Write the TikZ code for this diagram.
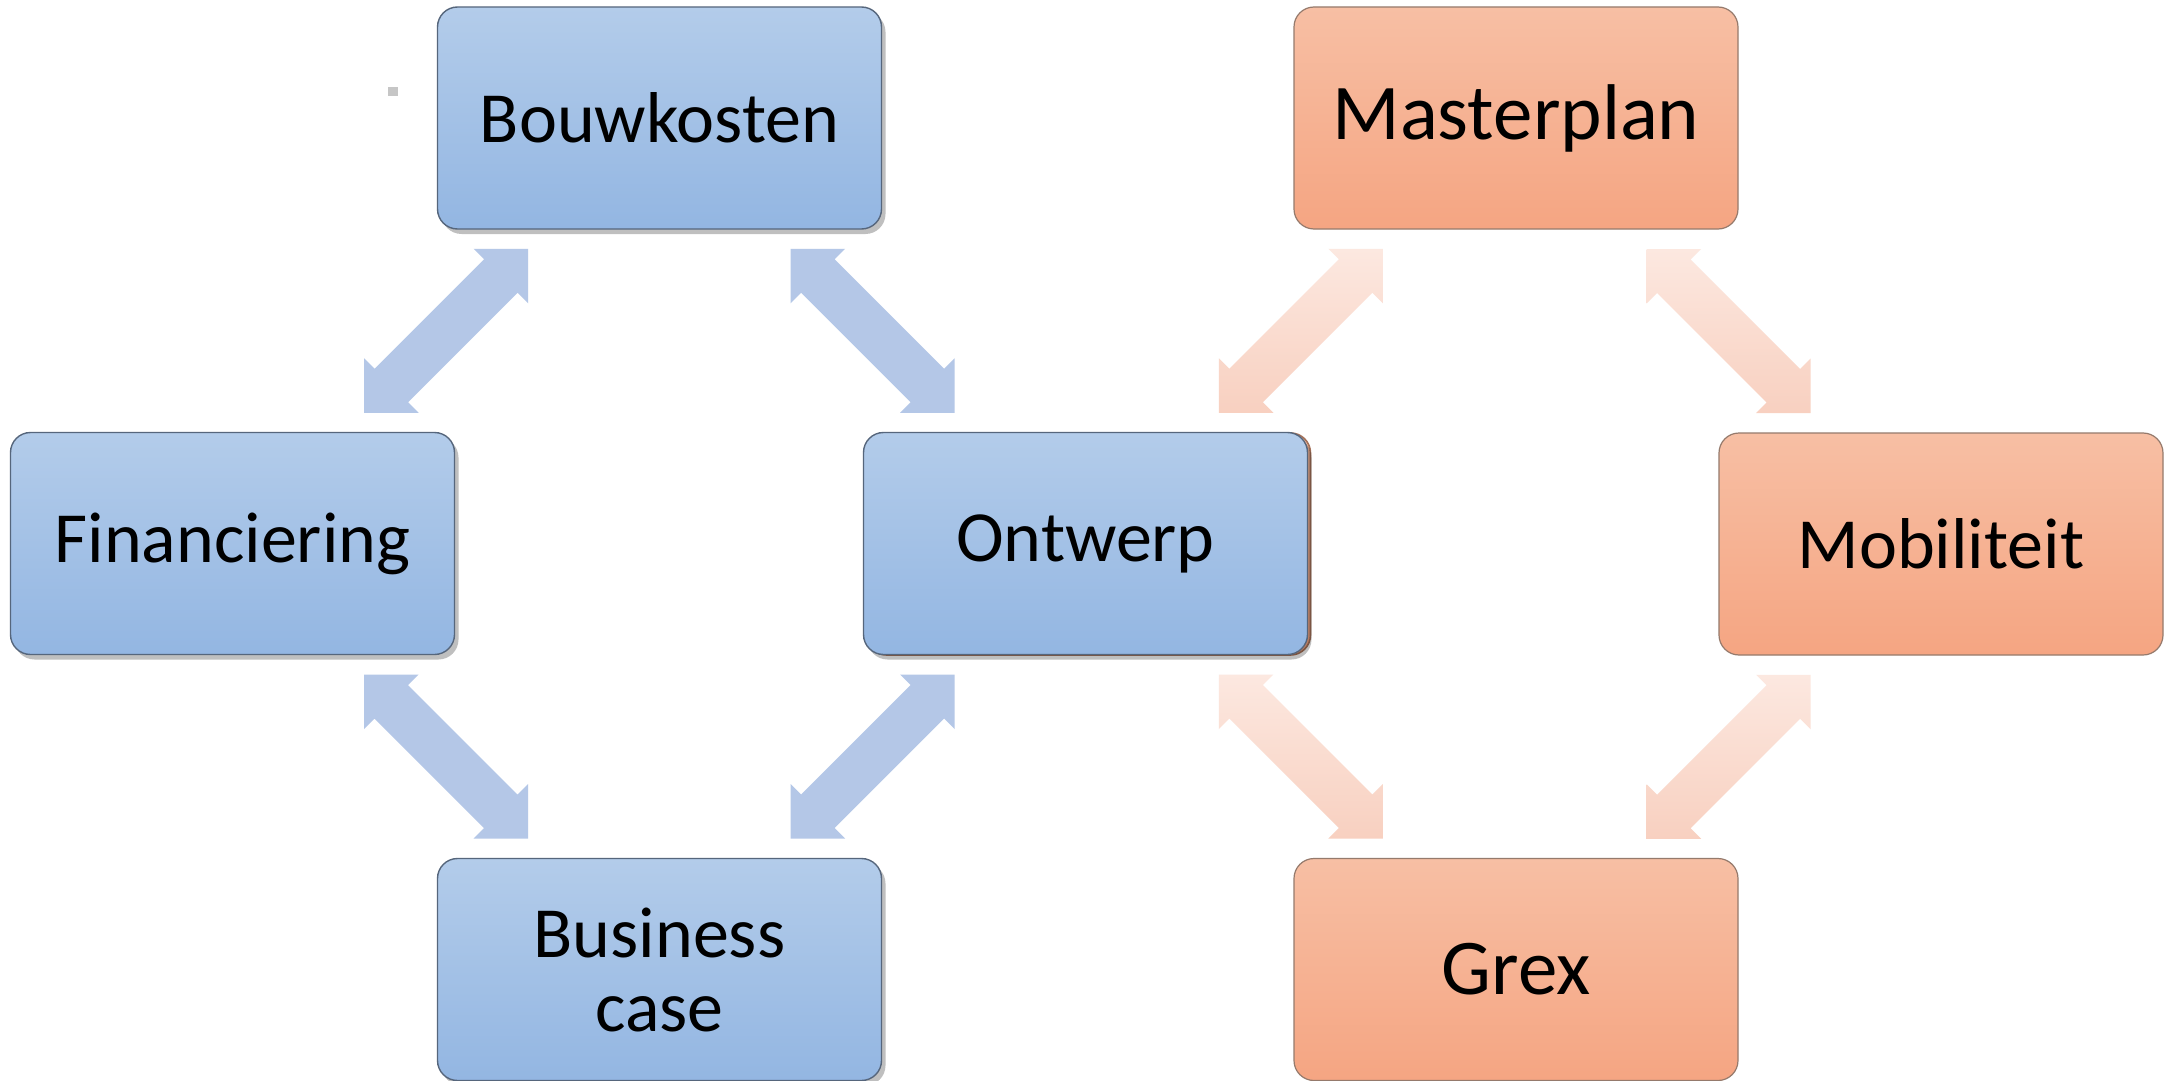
\documentclass[tikz,border=0pt]{standalone}
\usepackage{fontspec}
\setmainfont{Carlito}
\usetikzlibrary{calc,shadows}
\definecolor{bluetop}{HTML}{B3CCEA}
\definecolor{bluebot}{HTML}{93B6E2}
\definecolor{bluedraw}{HTML}{56667C}
\definecolor{orgtop}{HTML}{F7BFA4}
\definecolor{orgbot}{HTML}{F5A582}
\definecolor{orgdraw}{HTML}{957A6C}
\definecolor{bluearrow}{HTML}{B4C7E7}
\definecolor{orgarrowtop}{HTML}{FCE8E0}
\definecolor{orgarrowbot}{HTML}{F8D0C0}
\definecolor{brownedge}{HTML}{A5725A}
\newcommand\dblarrNE[3]{%
  \path[#3, shift={($(#1)!0.5!(#2)$)}] (82,-82) -- (27.5,-82) -- (38,-71.5) -- (-71.5,38) -- (-82,27.5) -- (-82,82) -- (-27.5,82) -- (-38,71.5) -- (71.5,-38) -- (82,-27.5) -- cycle;}
\newcommand\dblarrNW[3]{%
  \path[#3, shift={($(#1)!0.5!(#2)$)}] (-82,-82) -- (-27.5,-82) -- (-38,-71.5) -- (71.5,38) -- (82,27.5) -- (82,82) -- (27.5,82) -- (38,71.5) -- (-71.5,-38) -- (-82,-27.5) -- cycle;}
\begin{document}
\begin{tikzpicture}[x=0.5pt,y=-0.5pt,
  boxbase/.style={rectangle, rounded corners=10pt, minimum width=222pt, minimum height=111pt,
    inner sep=0pt, align=center, font=\fontsize{36}{37}\selectfont, text=black},
  bigtext/.style={font=\fontsize{39.5}{40}\selectfont},
  bluebox/.style={boxbase, draw=bluedraw, line width=0.7pt, top color=bluetop, bottom color=bluebot,
    drop shadow={shadow xshift=2pt, shadow yshift=-2.5pt, opacity=0.25, fill=black}},
  orgbox/.style={boxbase, draw=orgdraw, line width=0.6pt, top color=orgtop, bottom color=orgbot},
  bluearr/.style={fill=bluearrow, draw=none},
  orgarr/.style={top color=orgarrowtop, bottom color=orgarrowbot, draw=none}
]
\useasboundingbox (0,0) rectangle (2164,1081);
\fill[white] (0,0) rectangle (2164,1081);

% orange backing box under Ontwerp
\node[orgbox, draw=brownedge, line width=0.8pt] (ontback) at (1088.5,544) {};

\node[bluebox] (bk)   at (659.5,118)   {Bouwkosten};
\node[bluebox] (fin)  at (232.5,543.5) {Financiering};
\node[bluebox] (ont)  at (1085.5,543.5) {Ontwerp};
\node[bluebox] (bc)   at (659.5,969.5) {Business\\case};
\node[orgbox, bigtext]  (mp)   at (1516,118)    {Masterplan};
\node[orgbox]  (mob)  at (1941,544)    {Mobiliteit};
\node[orgbox, bigtext]  (grex) at (1516,969.5)  {Grex};

\dblarrNE{bk}{fin}{bluearr}
\dblarrNW{bk}{ont}{bluearr}
\dblarrNW{fin}{bc}{bluearr}
\dblarrNE{ont}{bc}{bluearr}
\dblarrNE{mp}{ont}{orgarr}
\dblarrNW{mp}{mob}{orgarr}
\dblarrNW{ont}{grex}{orgarr}
\dblarrNE{mob}{grex}{orgarr}

\fill[gray!45] (388,87) rectangle (398,96);
\end{tikzpicture}
\end{document}
